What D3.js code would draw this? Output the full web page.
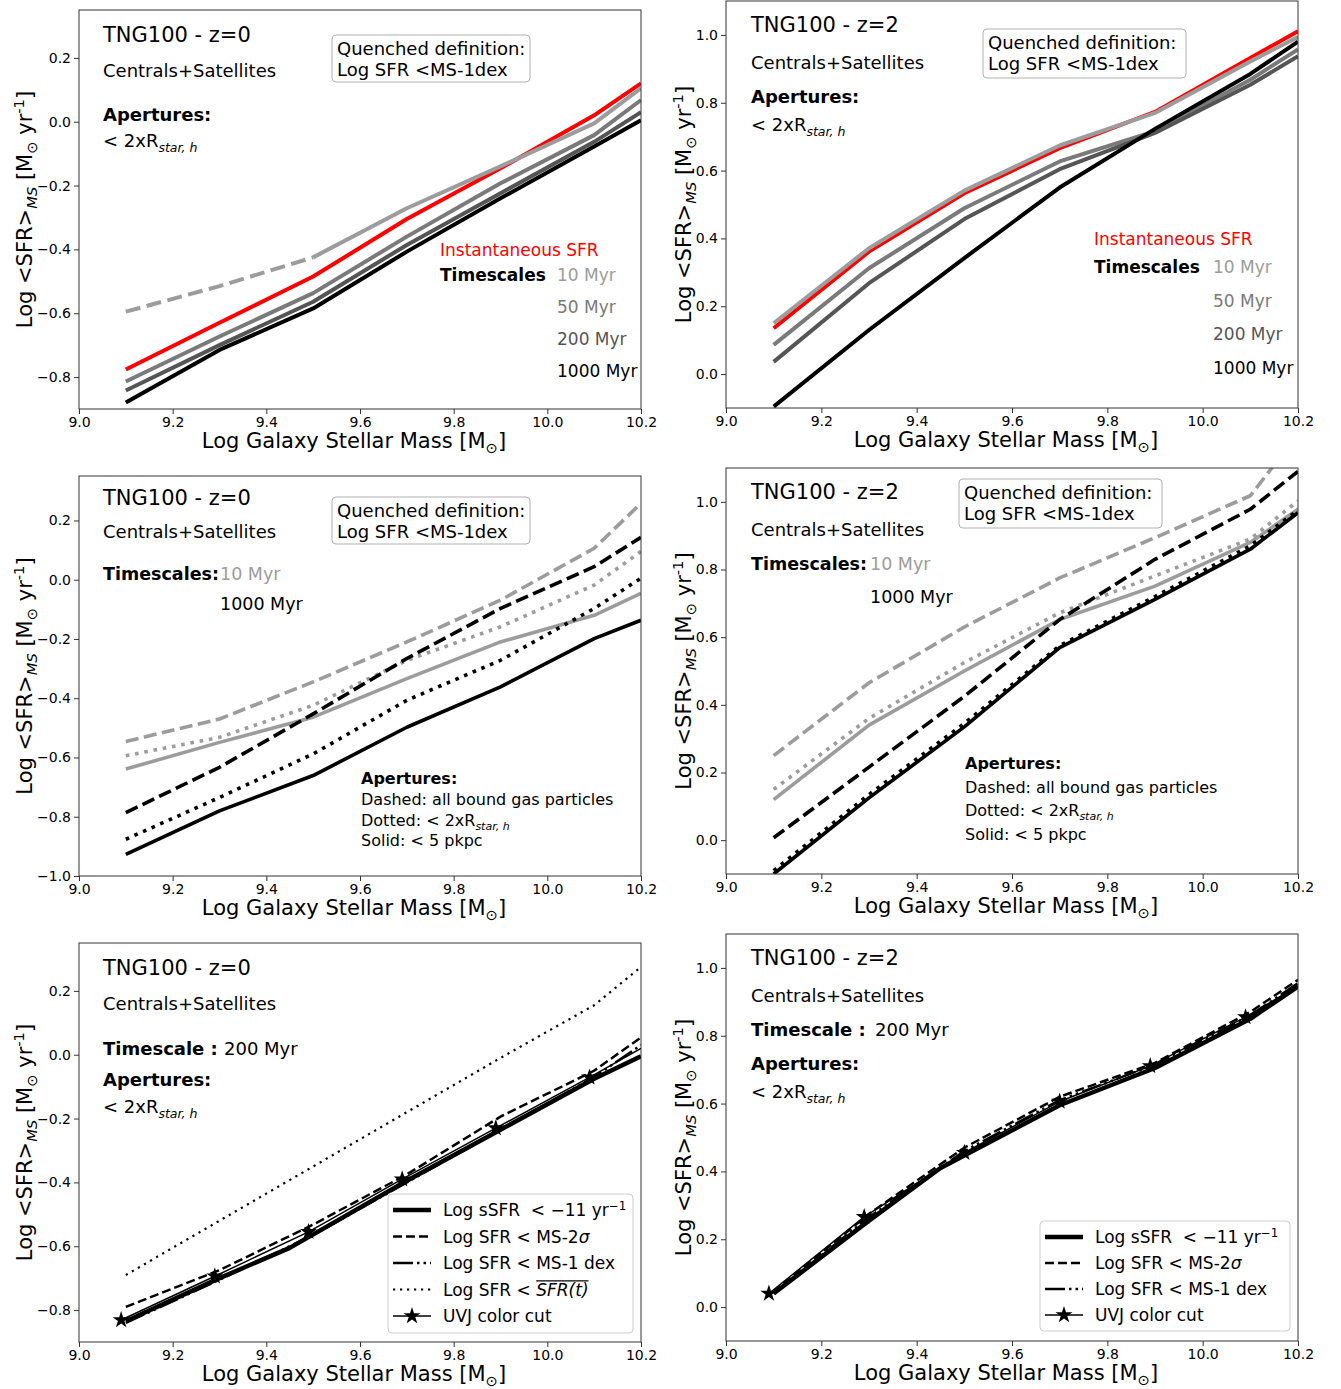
<!DOCTYPE html>
<html>
<head>
<meta charset="utf-8">
<script src="https://cdn.jsdelivr.net/npm/d3@7"></script>
<style>
  body { margin: 0; background: #fff; }
  svg text { font-family: "DejaVu Sans", sans-serif; white-space: pre; }
</style>
</head>
<body>
<div id="chart"></div>
<script>

// ---- data ----

// stellar mass bins (last one is the right edge of the plot)
var massBins = [9.1, 9.3, 9.5, 9.7, 9.9, 10.1, 10.2];
var xTicks = [9.0, 9.2, 9.4, 9.6, 9.8, 10.0, 10.2];
var yTicksZ0 = [-0.8, -0.6, -0.4, -0.2, 0.0, 0.2];
var yTicksZ0b = [-1.0, -0.8, -0.6, -0.4, -0.2, 0.0, 0.2];
var yTicksZ2 = [0.0, 0.2, 0.4, 0.6, 0.8, 1.0];

// top row: timescales, aperture < 2xR
var z0Inst   = [-0.776, -0.63, -0.485, -0.305, -0.146, 0.02, 0.12];
var z0T10Bins = [9.1, 9.3, 9.5];
var z0T10Low = [-0.595, -0.515, -0.425];
var z0T10HiBins = [9.5, 9.7, 9.9, 10.1, 10.2];
var z0T10    = [-0.425, -0.271, -0.14, -0.005, 0.105];
var z0T50    = [-0.814, -0.673, -0.537, -0.36, -0.193, -0.042, 0.068];
var z0T200   = [-0.842, -0.70, -0.564, -0.386, -0.224, -0.063, 0.03];
var z0T1000  = [-0.88, -0.715, -0.585, -0.407, -0.24, -0.078, 0.005];

var z2Inst   = [0.135, 0.361, 0.533, 0.666, 0.773, 0.932, 1.011];
var z2T10    = [0.15, 0.371, 0.541, 0.674, 0.77, 0.922, 0.994];
var z2T50    = [0.086, 0.312, 0.489, 0.627, 0.716, 0.868, 0.957];
var z2T200   = [0.036, 0.268, 0.457, 0.604, 0.711, 0.853, 0.937];
var z2T1000  = [-0.096, 0.13, 0.342, 0.55, 0.723, 0.885, 0.98];

// middle row: apertures (all bound / <2xR / <5 pkpc) for 10 and 1000 Myr
var z0AllT10    = [-0.546, -0.47, -0.345, -0.21, -0.069, 0.106, 0.258];
var z0TwoRT10   = [-0.594, -0.532, -0.424, -0.272, -0.159, -0.018, 0.095];
var z0FiveT10   = [-0.639, -0.549, -0.464, -0.334, -0.21, -0.12, -0.046];
var z0AllT1000  = [-0.786, -0.633, -0.453, -0.266, -0.097, 0.044, 0.143];
var z0TwoRT1000 = [-0.876, -0.735, -0.588, -0.407, -0.272, -0.097, 0.005];
var z0FiveT1000 = [-0.927, -0.78, -0.661, -0.498, -0.362, -0.199, -0.137];

var z2AllT10    = [0.25, 0.465, 0.63, 0.775, 0.894, 1.018, 1.2];
var z2TwoRT10   = [0.15, 0.36, 0.525, 0.672, 0.781, 0.89, 1.003];
var z2FiveT10   = [0.12, 0.34, 0.5, 0.652, 0.751, 0.88, 0.978];
var z2AllT1000  = [0.007, 0.216, 0.425, 0.652, 0.83, 0.978, 1.09];
var z2TwoRT1000 = [-0.09, 0.135, 0.345, 0.575, 0.72, 0.87, 0.975];
var z2FiveT1000 = [-0.1, 0.125, 0.335, 0.569, 0.712, 0.86, 0.968];

// bottom row: quenching definitions, 200 Myr, <2xR
var ssfrBins   = [9.1, 9.3, 9.45, 9.7, 9.9, 10.1, 10.2];
var uvjBinsZ0  = [9.09, 9.29, 9.49, 9.69, 9.89, 10.09, 10.2];
var uvjBinsZ2  = [9.09, 9.29, 9.5, 9.7, 9.89, 10.09, 10.2];

var z0Ssfr     = [-0.835, -0.70, -0.605, -0.395, -0.235, -0.075, -0.005];
var z0Ms2Sigma = [-0.79, -0.675, -0.532, -0.375, -0.194, -0.05, 0.054];
var z0Ms1dex   = [-0.84, -0.705, -0.565, -0.40, -0.235, -0.07, 0.03];
var z0SfrMean  = [-0.69, -0.52, -0.35, -0.18, -0.01, 0.155, 0.275];
var z0Uvj      = [-0.831, -0.694, -0.555, -0.39, -0.23, -0.071, 0.02];

var z2Ssfr     = [0.04, 0.255, 0.41, 0.595, 0.705, 0.85, 0.945];
var z2Ms2Sigma = [0.045, 0.275, 0.47, 0.62, 0.72, 0.87, 0.965];
var z2Ms1dex   = [0.04, 0.265, 0.46, 0.61, 0.715, 0.86, 0.955];
var z2Uvj      = [0.04, 0.266, 0.455, 0.606, 0.711, 0.855, 0.947];


// ---- colours ----
var c10 = "#9c9c9c", c50 = "#7a7a7a", c200 = "#555555", cInst = "#ff0000";

var W = 1341, H = 1389;
var svg = d3.select("#chart").append("svg")
    .attr("width", W).attr("height", H);

var defs = svg.append("defs");
var fmt = d3.format(".1f");

// text with sub / superscripts
function rich(g, x, y, size, parts, anchor) {
    var t = g.append("text").attr("x", x).attr("y", y)
        .style("font-size", size + "px");
    if (anchor) t.attr("text-anchor", anchor);
    var shift = 0, pos = 0, overs = [];
    parts.forEach(function(p) {
        if (typeof p === "string") p = {t: p};
        var s = t.append("tspan").text(p.t);
        var target = p.sub ? size * 0.25 : (p.sup ? -size * 0.38 : 0);
        if (target - shift !== 0) s.attr("dy", target - shift);
        shift = target;
        if (p.sub || p.sup) s.style("font-size", (p.size || size * 0.7) + "px");
        if (p.italic) s.style("font-style", "italic");
        if (p.bold) s.style("font-weight", "bold");
        if (p.color) s.attr("fill", p.color);
        if (p.over) overs.push([pos, pos + p.t.length - 1]);
        pos += p.t.length;
    });
    overs.forEach(function(o) {
        var n = t.node();
        var x0 = n.getStartPositionOfChar(o[0]).x,
            x1 = n.getEndPositionOfChar(o[1]).x;
        g.append("line").attr("x1", x0).attr("x2", x1)
            .attr("y1", y - size * 0.86).attr("y2", y - size * 0.86)
            .attr("stroke", "#000").attr("stroke-width", 1.2);
    });
    return t;
}

function starPath(size) {
    return d3.symbol().type(d3.symbolStar).size(size)();
}

var panelCount = 0;
function panel(cfg) {
    var b = cfg.box;
    var x = d3.scaleLinear().domain([9.0, 10.2]).range([b.left, b.right]);
    var y = d3.scaleLinear().domain(cfg.yDomain).range([b.bottom, b.top]);
    var g = svg.append("g");
    var id = "clip" + (panelCount++);
    defs.append("clipPath").attr("id", id).append("rect")
        .attr("x", b.left).attr("y", b.top)
        .attr("width", b.right - b.left).attr("height", b.bottom - b.top);

    // axes
    var xa = g.append("g").attr("transform", "translate(0," + b.bottom + ")")
        .call(d3.axisBottom(x).tickValues(xTicks).tickFormat(fmt).tickSize(5).tickPadding(3));
    var ya = g.append("g").attr("transform", "translate(" + b.left + ",0)")
        .call(d3.axisLeft(y).tickValues(cfg.yTicks).tickFormat(fmt).tickSize(5).tickPadding(3));
    [xa, ya].forEach(function(a) {
        a.select(".domain").remove();
        a.selectAll("line").attr("stroke", "#333");
        a.selectAll("text").style("font-size", "14px").attr("fill", "#000")
            .style("font-family", "DejaVu Sans");
    });

    // lines
    var line = d3.line().x(function(d) { return x(d[0]); }).y(function(d) { return y(d[1]); });
    var lg = g.append("g").attr("clip-path", "url(#" + id + ")");
    cfg.series.forEach(function(s) {
        lg.append("path").datum(d3.zip(s.xs, s.ys))
            .attr("d", line).attr("fill", "none")
            .attr("stroke", s.color).attr("stroke-width", s.lw)
            .attr("stroke-dasharray", s.dash || null)
            .attr("stroke-linecap", s.cap || "butt")
            .attr("stroke-linejoin", "round");
        if (s.star) {
            lg.selectAll(null).data(d3.zip(s.xs, s.ys).slice(0, s.star)).enter()
                .append("path").attr("d", starPath(90))
                .attr("transform", function(d) { return "translate(" + x(d[0]) + "," + y(d[1]) + ")"; })
                .attr("fill", "#000");
        }
    });

    // frame
    g.append("rect").attr("x", b.left).attr("y", b.top)
        .attr("width", b.right - b.left).attr("height", b.bottom - b.top)
        .attr("fill", "none").attr("stroke", "#333").attr("stroke-width", 1);

    // axis labels
    rich(g, (b.left + b.right) / 2 - 6, b.bottom + 39, 21,
        ["Log Galaxy Stellar Mass [M", {t: "\u2299", sub: true}, "]"], "middle");
    var yl = g.append("g").attr("transform",
        "translate(" + cfg.yLabelX + "," + ((b.top + b.bottom) / 2) + ") rotate(-90)");
    rich(yl, 0, 0, 21, ["Log <SFR>", {t: "MS", sub: true, italic: true},
        " [M", {t: "\u2299", sub: true}, " yr", {t: "-1", sup: true}, "]"], "middle");

    // annotations
    (cfg.notes || []).forEach(function(n) {
        rich(g, n.x, n.y, n.size, n.parts, n.anchor);
    });

    // boxed note
    if (cfg.qbox) {
        var q = cfg.qbox;
        g.append("rect").attr("x", q.x).attr("y", q.y).attr("width", q.w).attr("height", q.h)
            .attr("rx", 4).attr("fill", "#fff").attr("stroke", "#b0b0b0");
        rich(g, q.x + 5, q.y + 19.5, 18, ["Quenched definition:"]);
        rich(g, q.x + 5, q.y + 40.5, 18, ["Log SFR <MS-1dex"]);
    }

    // legend
    if (cfg.legend) {
        var L = cfg.legend;
        g.append("rect").attr("x", L.x).attr("y", L.y).attr("width", L.w).attr("height", L.h)
            .attr("rx", 4).attr("fill", "#fff").attr("fill-opacity", 0.8).attr("stroke", "#cccccc");
        L.entries.forEach(function(e, i) {
            var cy = L.y + 16 + i * L.step;
            g.append("line").attr("x1", L.x + 5).attr("x2", L.x + 43)
                .attr("y1", cy).attr("y2", cy)
                .attr("stroke", "#000").attr("stroke-width", e.lw)
                .attr("stroke-dasharray", e.dash || null);
            if (e.star) {
                g.append("path").attr("d", starPath(90))
                    .attr("transform", "translate(" + (L.x + 24) + "," + cy + ")");
            }
            rich(g, L.x + 55, cy + 6, 17, e.parts);
        });
    }
}

function timescaleSeries(bins, inst, t50, t200, t1000, extra) {
    return [{xs: bins, ys: inst, color: cInst, lw: 4}]
        .concat(extra)
        .concat([
            {xs: bins, ys: t50, color: c50, lw: 4},
            {xs: bins, ys: t200, color: c200, lw: 4},
            {xs: bins, ys: t1000, color: "#000", lw: 4}
        ]);
}

var twoR = ["< 2xR", {t: "star, h", sub: true, italic: true, size: 12.5}];

function tsNotes(x0, yInst, dy, xv) {
    return [
        {x: x0, y: yInst, size: 17, parts: [{t: "Instantaneous SFR", color: cInst}]},
        {x: x0, y: yInst + dy[0], size: 17, parts: [{t: "Timescales", bold: true}]},
        {x: xv, y: yInst + dy[0], size: 17, parts: [{t: "10 Myr", color: c10}]},
        {x: xv, y: yInst + dy[1], size: 17, parts: [{t: "50 Myr", color: c50}]},
        {x: xv, y: yInst + dy[2], size: 17, parts: [{t: "200 Myr", color: c200}]},
        {x: xv, y: yInst + dy[3], size: 17, parts: [{t: "1000 Myr", color: "#000"}]}
    ];
}

// ---- panel 1: z=0 timescales ----
panel({
    box: {left: 79, right: 641, top: 10, bottom: 409},
    yDomain: [-0.9, 0.35], yTicks: yTicksZ0, yLabelX: 32,
    series: timescaleSeries(massBins, z0Inst, z0T50, z0T200, z0T1000, [
        {xs: z0T10Bins, ys: z0T10Low, color: c10, lw: 4, dash: "15,6.5"},
        {xs: z0T10HiBins, ys: z0T10, color: c10, lw: 4}
    ]),
    qbox: {x: 332, y: 35, w: 198, h: 47},
    notes: [
        {x: 103, y: 42, size: 21, parts: ["TNG100 - z=0"]},
        {x: 103, y: 77, size: 18, parts: ["Centrals+Satellites"]},
        {x: 103, y: 121, size: 18, parts: [{t: "Apertures:", bold: true}]},
        {x: 103, y: 147, size: 18, parts: twoR}
    ].concat(tsNotes(440, 256, [25, 57, 89, 121], 557))
});

// ---- panel 2: z=2 timescales ----
panel({
    box: {left: 726, right: 1298, top: 1, bottom: 408},
    yDomain: [-0.1, 1.1], yTicks: yTicksZ2, yLabelX: 691,
    series: timescaleSeries(massBins, z2Inst, z2T50, z2T200, z2T1000, [
        {xs: massBins, ys: z2T10, color: c10, lw: 4}
    ]),
    qbox: {x: 983, y: 29, w: 203, h: 49},
    notes: [
        {x: 751, y: 32, size: 21, parts: ["TNG100 - z=2"]},
        {x: 751, y: 69, size: 18, parts: ["Centrals+Satellites"]},
        {x: 751, y: 103, size: 18, parts: [{t: "Apertures:", bold: true}]},
        {x: 751, y: 131, size: 18, parts: twoR}
    ].concat(tsNotes(1094, 245, [28, 62, 95, 129], 1213))
});

function apertureSeries(all10, two10, five10, all1000, two1000, five1000) {
    return [
        {xs: massBins, ys: all10, color: c10, lw: 3.6, dash: "13,5.5"},
        {xs: massBins, ys: two10, color: c10, lw: 3.6, dash: "3.6,5.8"},
        {xs: massBins, ys: five10, color: c10, lw: 3.6},
        {xs: massBins, ys: five1000, color: "#000", lw: 3.6},
        {xs: massBins, ys: two1000, color: "#000", lw: 3.6, dash: "3.6,5.8"},
        {xs: massBins, ys: all1000, color: "#000", lw: 3.6, dash: "13,5.5"}
    ];
}

function apertureNotes(x0, ys) {
    return [
        {x: x0, y: ys[0], size: 16, parts: [{t: "Apertures:", bold: true}]},
        {x: x0, y: ys[1], size: 16, parts: ["Dashed: all bound gas particles"]},
        {x: x0, y: ys[2], size: 16, parts: ["Dotted: < 2xR", {t: "star, h", sub: true, italic: true, size: 11}]},
        {x: x0, y: ys[3], size: 16, parts: ["Solid: < 5 pkpc"]}
    ];
}

// ---- panel 3: z=0 apertures ----
panel({
    box: {left: 79, right: 641, top: 476, bottom: 876},
    yDomain: [-1.0, 0.35], yTicks: yTicksZ0b, yLabelX: 32,
    series: apertureSeries(z0AllT10, z0TwoRT10, z0FiveT10, z0AllT1000, z0TwoRT1000, z0FiveT1000),
    qbox: {x: 332, y: 497, w: 198, h: 47},
    notes: [
        {x: 103, y: 505, size: 21, parts: ["TNG100 - z=0"]},
        {x: 103, y: 538, size: 18, parts: ["Centrals+Satellites"]},
        {x: 103, y: 580, size: 17.5, parts: [{t: "Timescales:", bold: true}]},
        {x: 220, y: 580, size: 17.5, parts: [{t: "10 Myr", color: c10}]},
        {x: 220, y: 610, size: 17.5, parts: ["1000 Myr"]}
    ].concat(apertureNotes(361, [784, 805, 826, 846]))
});

// ---- panel 4: z=2 apertures ----
panel({
    box: {left: 726, right: 1298, top: 468, bottom: 874},
    yDomain: [-0.1, 1.1], yTicks: yTicksZ2, yLabelX: 691,
    series: apertureSeries(z2AllT10, z2TwoRT10, z2FiveT10, z2AllT1000, z2TwoRT1000, z2FiveT1000),
    qbox: {x: 959, y: 479, w: 203, h: 49},
    notes: [
        {x: 751, y: 499, size: 21, parts: ["TNG100 - z=2"]},
        {x: 751, y: 536, size: 18, parts: ["Centrals+Satellites"]},
        {x: 751, y: 570, size: 17.5, parts: [{t: "Timescales:", bold: true}]},
        {x: 870, y: 570, size: 17.5, parts: [{t: "10 Myr", color: c10}]},
        {x: 870, y: 603, size: 17.5, parts: ["1000 Myr"]}
    ].concat(apertureNotes(965, [769, 793, 816, 840]))
});

var legSsfr = {lw: 4.5, parts: ["Log sSFR  < \u221211 yr", {t: "\u22121", sup: true}]};
var legSigma = {lw: 2.5, dash: "9,4", parts: ["Log SFR < MS-2", {t: "\u03c3", italic: true}]};
var legDex = {lw: 2.5, dash: "20,4,2.5,4,2.5,4", parts: ["Log SFR < MS-1 dex"]};
var legMean = {lw: 2.2, dash: "2.2,4.8", parts: ["Log SFR < ", {t: "SFR(t)", italic: true, over: true}]};
var legUvj = {lw: 1.5, star: true, parts: ["UVJ color cut"]};

function bottomNotes(x0, ys, x200) {
    return [
        {x: x0, y: ys[0], size: 21, parts: ["TNG100 - z=" + ys[5]]},
        {x: x0, y: ys[1], size: 18, parts: ["Centrals+Satellites"]},
        {x: x0, y: ys[2], size: 18, parts: [{t: "Timescale :", bold: true}]},
        {x: x200, y: ys[2], size: 18, parts: ["200 Myr"]},
        {x: x0, y: ys[3], size: 18, parts: [{t: "Apertures:", bold: true}]},
        {x: x0, y: ys[4], size: 18, parts: twoR}
    ];
}

// ---- panel 5: z=0 quenching definitions ----
panel({
    box: {left: 79, right: 641, top: 943, bottom: 1342},
    yDomain: [-0.9, 0.35], yTicks: yTicksZ0, yLabelX: 32,
    series: [
        {xs: massBins, ys: z0SfrMean, color: "#000", lw: 2.2, dash: "2.2,4.8"},
        {xs: ssfrBins, ys: z0Ssfr, color: "#000", lw: 4.5},
        {xs: massBins, ys: z0Ms2Sigma, color: "#000", lw: 2.5, dash: "9,4"},
        {xs: massBins, ys: z0Ms1dex, color: "#000", lw: 2.5, dash: "20,4,2.5,4,2.5,4"},
        {xs: uvjBinsZ0, ys: z0Uvj, color: "#000", lw: 1.5, star: 6}
    ],
    legend: {x: 388, y: 1194, w: 245, h: 139, step: 26.5,
        entries: [legSsfr, legSigma, legDex, legMean, legUvj]},
    notes: bottomNotes(103, [975, 1010, 1054.5, 1086, 1113, "0"], 224)
});

// ---- panel 6: z=2 quenching definitions ----
panel({
    box: {left: 726, right: 1298, top: 934, bottom: 1341},
    yDomain: [-0.1, 1.1], yTicks: yTicksZ2, yLabelX: 691,
    series: [
        {xs: ssfrBins, ys: z2Ssfr, color: "#000", lw: 4.5},
        {xs: massBins, ys: z2Ms2Sigma, color: "#000", lw: 2.5, dash: "9,4"},
        {xs: massBins, ys: z2Ms1dex, color: "#000", lw: 2.5, dash: "20,4,2.5,4,2.5,4"},
        {xs: uvjBinsZ2, ys: z2Uvj, color: "#000", lw: 1.5, star: 6}
    ],
    legend: {x: 1040, y: 1221, w: 250, h: 110, step: 26,
        entries: [legSsfr, legSigma, legDex, legUvj]},
    notes: bottomNotes(751, [964.5, 1001.5, 1036, 1069.5, 1098, "2"], 875)
});

</script>
</body>
</html>
